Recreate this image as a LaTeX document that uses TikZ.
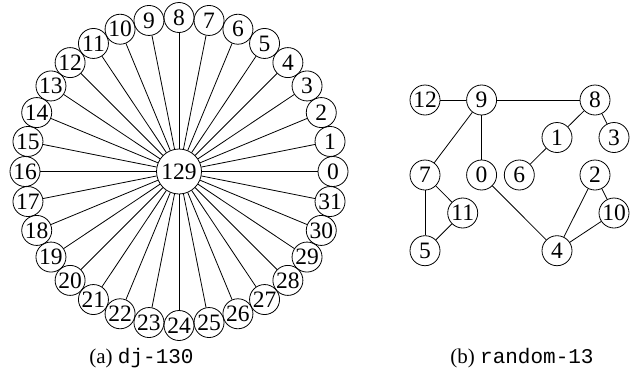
\documentclass[tikz,border=0pt]{standalone}
\usepackage{fontspec}
\setmainfont{Liberation Serif}
\setmonofont{Liberation Mono}
\begin{document}
\begin{tikzpicture}[x=1pt,y=-1pt,
  vtx/.style={circle,draw,line width=0.8pt,minimum size=30pt,inner sep=0pt,font=\fontsize{23.5}{25}\selectfont},
  edge/.style={line width=0.8pt},
  captext/.style={anchor=base,font=\fontsize{21}{24}\selectfont}]
\useasboundingbox (0,0) rectangle (639,383);
% (a) star
\node[vtx,minimum size=45pt] (c) at (179,171.5) {129};
\foreach \k in {0,...,31} {
  \node[vtx] (r\k) at ({179+154*cos(11.25*\k)},{171.5-154*sin(11.25*\k)}) {\k};
  \draw[edge] (c) -- (r\k);
}
% (b) random graph
\node[vtx] (b12) at (425,100) {12};
\node[vtx] (b9) at (481.6,100) {9};
\node[vtx] (b8) at (595,100) {8};
\node[vtx] (b1) at (557,137.5) {1};
\node[vtx] (b3) at (614,137.5) {3};
\node[vtx] (b7) at (425,175) {7};
\node[vtx] (b0) at (481.6,175) {0};
\node[vtx] (b6) at (519.3,175) {6};
\node[vtx] (b2) at (595,175) {2};
\node[vtx] (b11) at (462.7,213) {11};
\node[vtx] (b10) at (614,213) {10};
\node[vtx] (b5) at (425,250.7) {5};
\node[vtx] (b4) at (557,250.7) {4};
\draw[edge] (b12) -- (b9);
\draw[edge] (b9) -- (b8);
\draw[edge] (b9) -- (b7);
\draw[edge] (b9) -- (b0);
\draw[edge] (b8) -- (b1);
\draw[edge] (b8) -- (b3);
\draw[edge] (b1) -- (b6);
\draw[edge] (b7) -- (b11);
\draw[edge] (b7) -- (b5);
\draw[edge] (b11) -- (b5);
\draw[edge] (b0) -- (b4);
\draw[edge] (b2) -- (b4);
\draw[edge] (b2) -- (b10);
\draw[edge] (b10) -- (b4);
% captions
\node[captext] (capa) at (141.5,363) {(a) \texttt{dj-130}};
\node[captext] (capb) at (522,363) {(b) \texttt{random-13}};
\end{tikzpicture}
\end{document}
